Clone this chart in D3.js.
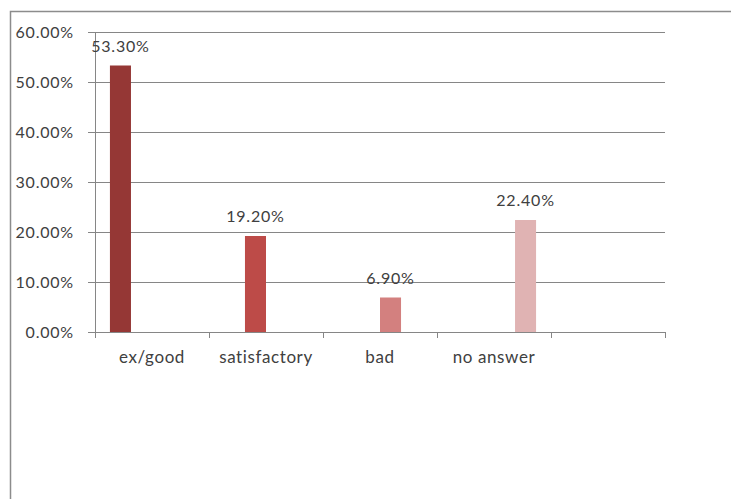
<!DOCTYPE html>
<html>
<head>
<meta charset="utf-8">
<script src="https://d3js.org/d3.v7.min.js"></script>
<style>
  body { margin: 0; background: #fff; }
  text { font-family: Lato, "Open Sans", sans-serif; fill: #404040; }
</style>
</head>
<body>
<div id="chart"></div>
<script>
//chart data
const categories = ["ex/good", "satisfactory", "bad", "no answer", ""];
const series = ["s1", "s2", "s3", "s4"];
const values = [53.3, 19.2, 6.9, 22.4];
const labels = ["53.30%", "19.20%", "6.90%", "22.40%"];
const yTicks = [0, 10, 20, 30, 40, 50, 60];
const colors = ["#953735", "#bd4b48", "#d3807f", "#e0b3b3"];

const W = 731, H = 499;
const margin = { top: 32, right: 66, bottom: 167, left: 95 };
const width = W - margin.left - margin.right;
const height = H - margin.top - margin.bottom;

const svg = d3.select("#chart").append("svg")
  .attr("width", W)
  .attr("height", H);

//outer frame
svg.append("rect")
  .attr("x", 10.5).attr("y", 11.5)
  .attr("width", 740).attr("height", 510)
  .attr("fill", "none")
  .attr("stroke", "#8c8c8c")
  .attr("stroke-width", 1.5);

const g = svg.append("g")
  .attr("transform", `translate(${margin.left},${margin.top})`);

const x0 = d3.scaleBand().domain(d3.range(categories.length)).range([0, width]);
const x1 = d3.scaleBand().domain(series).range([0, x0.bandwidth()]).paddingOuter(0.71);
const y = d3.scaleLinear().domain([0, 60]).range([height, 0]);

//gridlines
g.append("g")
  .selectAll("line")
  .data(yTicks)
  .join("line")
    .attr("x1", -7).attr("x2", width)
    .attr("y1", d => Math.round(y(d)) + 0.5)
    .attr("y2", d => Math.round(y(d)) + 0.5)
    .attr("stroke", "#868686");

//y axis line
g.append("line")
  .attr("x1", 0.5).attr("x2", 0.5)
  .attr("y1", 0).attr("y2", height + 6)
  .attr("stroke", "#868686");

//x axis ticks between categories
g.append("g")
  .selectAll("line")
  .data(d3.range(categories.length + 1))
  .join("line")
    .attr("x1", d => Math.round(d * x0.step()) + 0.5)
    .attr("x2", d => Math.round(d * x0.step()) + 0.5)
    .attr("y1", height).attr("y2", height + 6)
    .attr("stroke", "#868686");

//y tick labels
g.append("g")
  .selectAll("text")
  .data(yTicks)
  .join("text")
    .attr("x", -21)
    .attr("y", d => y(d))
    .attr("dy", "0.35em")
    .attr("text-anchor", "end")
    .style("font-size", "16px")
    .style("letter-spacing", "0.8px")
    .text(d => d3.format(".2f")(d) + "%");

//category labels
g.append("g")
  .selectAll("text")
  .data(categories)
  .join("text")
    .attr("x", (d, i) => x0(i) + x0.bandwidth() / 2)
    .attr("y", height + 31)
    .attr("text-anchor", "middle")
    .style("font-size", "17px")
    .style("letter-spacing", "0.6px")
    .text(d => d);

//bars, one series per category
g.append("g")
  .selectAll("rect")
  .data(values)
  .join("rect")
    .attr("x", (d, i) => x0(i) + x1(series[i]))
    .attr("y", d => y(d))
    .attr("width", x1.bandwidth())
    .attr("height", d => height - y(d))
    .attr("fill", (d, i) => colors[i]);

//data labels
g.append("g")
  .selectAll("text")
  .data(values)
  .join("text")
    .attr("x", (d, i) => x0(i) + x1(series[i]) + x1.bandwidth() / 2)
    .attr("y", d => y(d) - 14)
    .attr("text-anchor", "middle")
    .style("font-size", "16px")
    .style("letter-spacing", "0.8px")
    .text((d, i) => labels[i]);
</script>
</body>
</html>
